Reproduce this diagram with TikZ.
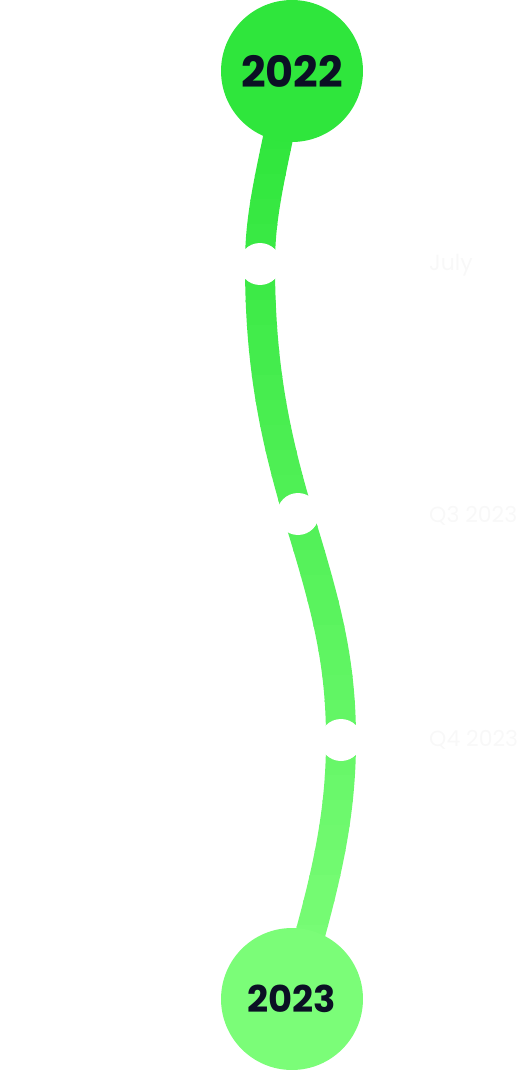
\documentclass[tikz,border=0pt]{standalone}
\usepackage{fontspec}
\setmainfont{Poppins}
\usetikzlibrary{backgrounds}

\definecolor{yeartop}{RGB}{47,230,60}
\definecolor{yearbot}{RGB}{123,253,120}
\definecolor{ink}{RGB}{11,16,36}
\definecolor{faint}{RGB}{248,248,248}

\tikzset{
  year/.style={circle, minimum size=2.84cm, inner sep=0pt, text=ink},
  milestone/.style={circle, fill=white, minimum size=0.84cm, inner sep=0pt},
  when/.style={anchor=west, text=faint, font=\fontsize{12.5}{12.5}\selectfont},
}

\begin{document}
\begin{tikzpicture}[x=0.02cm, y=-0.02cm]
  \useasboundingbox (0,0) rectangle (527,1071);

  % years
  \node[year, fill=yeartop, font=\bfseries\fontsize{24.5}{24.5}\selectfont] (y22) at (292,71) {2022};
  \node[year, fill=yearbot, font=\bfseries\fontsize{21}{21}\selectfont] (y23) at (292,999) {2023};

  % milestones on the track
  \node[milestone] (m1) at (260,264) {};
  \node[milestone] (m2) at (298,514) {};
  \node[milestone] (m3) at (341,740) {};

  \node[when] (l1) at (423,265) {July};
  \node[when] (l2) at (423,516) {Q3 2023};
  \node[when] (l3) at (423,740) {Q4 2023};

  % track, shaded top to bottom in bands
  \begin{scope}[on background layer]
    \foreach \i in {0,...,43} {
      \pgfmathtruncatemacro\p{min(100,max(0,(\i*25-110)/8.5))}
      \colorlet{bandcol}{yearbot!\p!yeartop}
      \begin{scope}
        \clip (0,\i*25) rectangle (527,\i*25+26);
        \draw[line width=0.6cm, bandcol] (y22.center)
          .. controls (272,170) and (260,210) .. (m1.center)
          .. controls (260,360) and (273,430) .. (m2.center)
          .. controls (326,605) and (341,660) .. (m3.center)
          .. controls (341,830) and (320,900) .. (y23.center);
      \end{scope}
    }
  \end{scope}
\end{tikzpicture}
\end{document}
